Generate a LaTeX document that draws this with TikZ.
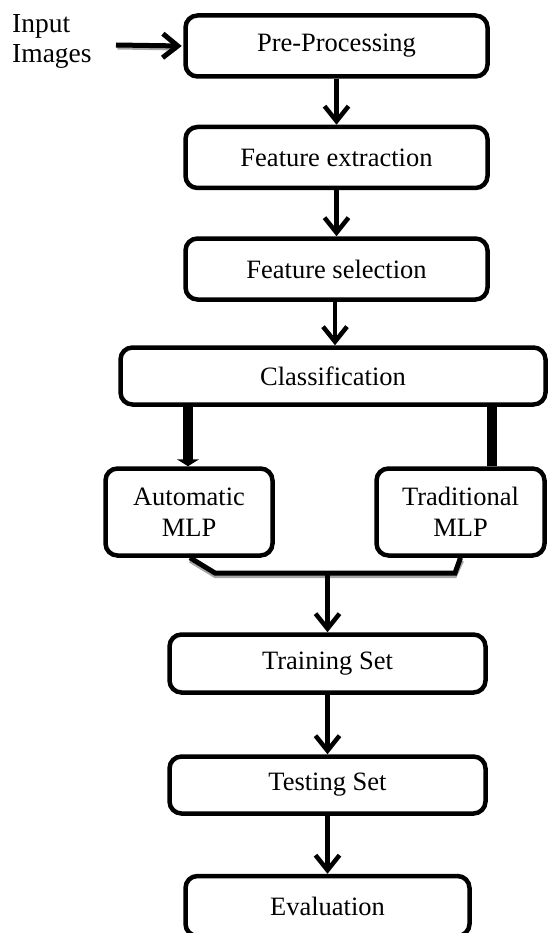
\documentclass[tikz,border=0pt]{standalone}
\usepackage{fontspec}
\setmainfont{Liberation Serif}
\usetikzlibrary{arrows.meta}
\tikzset{
  stepbox/.style={draw=black, line width=4.5pt, rounded corners=12pt, fill=white,
    inner sep=0pt, align=center, font=\fontsize{26.5}{31}\selectfont},
  flowarrow/.style={line width=4.5pt, -{Straight Barb[length=15pt,width=24pt]}},
  labeltext/.style={inner sep=0pt, font=\fontsize{27.5}{30}\selectfont},
  shadowline/.style={draw=black!35, line width=5pt}
}
\begin{document}
\begin{tikzpicture}[x=1pt,y=-1pt]
\useasboundingbox (0,0) rectangle (547,933);
% boxes
\node[stepbox, minimum width=302pt, minimum height=61pt] (pre) at (336.5,46) {Pre-Processing};
\node[stepbox, minimum width=302pt, minimum height=61pt] (fe) at (336.5,157.5) {Feature extraction};
\node[stepbox, minimum width=302pt, minimum height=61pt] (fs) at (336.5,269) {Feature selection};
\node[stepbox, minimum width=425pt, minimum height=57pt] (cls) at (333,376) {Classification};
\node[stepbox, minimum width=167pt, minimum height=87pt] (auto) at (189,512) {Automatic\\MLP};
\node[stepbox, minimum width=168pt, minimum height=87pt] (trad) at (460.5,512) {Traditional\\MLP};
\node[stepbox, minimum width=316pt, minimum height=58pt] (train) at (327.5,663.5) {Training Set};
\node[stepbox, minimum width=316pt, minimum height=57pt] (test) at (327.5,785) {Testing Set};
\node[stepbox, minimum width=284pt, minimum height=60pt] (eval) at (327.5,906) {Evaluation};
% input label
\node[labeltext, anchor=base west] (in1) at (12,33) {Input};
\node[labeltext, anchor=base west] (in2) at (12,63) {Images};
\coordinate (instart) at (116,45);
% input arrow
\draw[shadowline] ([shift={(1.5,2)}]instart) -- ([shift={(-6,2)}]pre.west);
\draw[line width=5pt, -{Straight Barb[length=15pt,width=24pt]}] (instart) -- ([xshift=-1.5pt]pre.west);
% vertical arrows
\draw[flowarrow] (pre.south) -- (fe.north);
\draw[flowarrow] (fe.south) -- (fs.north);
\draw[flowarrow] ([xshift=-1.5pt]fs.south) -- ([xshift=-1.5pt]fs.south |- cls.north);
% classification branches
\draw[line width=10pt, -{Triangle[length=7pt,width=22pt]}] ([xshift=-1pt]auto.north |- cls.south) -- ([xshift=-1pt]auto.north);
\draw[line width=10pt] ([xshift=31.5pt]trad.north |- cls.south) -- ([xshift=31.5pt]trad.north);
% merge
\coordinate (ml) at (215,573);
\coordinate (mr) at (455,573);
\draw[shadowline, line width=4pt] ([shift={(1,3)}]auto.south) -- ([shift={(0,3)}]ml) -- ([shift={(0,3)}]mr) -- ([shift={(1.5,3)}]trad.south);
\draw[line width=5pt, line join=miter] ([xshift=1pt]auto.south) -- (ml) -- (mr) -- (trad.south);
\draw[flowarrow] (train.north |- ml) -- (train.north);
\draw[flowarrow] (train.south) -- (test.north);
\draw[flowarrow] (test.south) -- (eval.north);
\end{tikzpicture}
\end{document}
